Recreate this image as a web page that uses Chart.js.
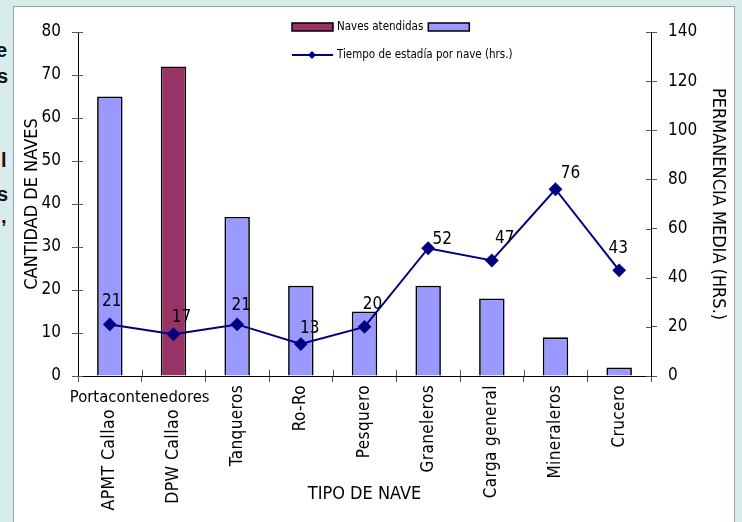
<!DOCTYPE html>
<html>
<head>
<meta charset="utf-8">
<title>Naves atendidas</title>
<script src="https://cdn.jsdelivr.net/npm/chart.js@4/dist/chart.umd.min.js"></script>
<style>
html, body { margin: 0; padding: 0; }
body { width: 742px; height: 522px; overflow: hidden; position: relative; background: #d8ecec; }
#side { position: absolute; left: 0; top: 0; width: 9px; height: 260px; overflow: hidden; }
#side span { position: absolute; font: bold 20px 'Liberation Sans', Arial, sans-serif; color: #111; line-height: 1; }
#panel { position: absolute; left: 13px; top: 6px; width: 720px; height: 540px; background: #fff; border: 1px solid #97a3a3; }
#wrap { position: absolute; left: 0; top: 0; width: 742px; height: 522px; }
</style>
</head>
<body>
<div id="side">
    <span style="top:40px;left:-4px">e</span>
    <span style="top:66px;left:-3px">s</span>
    <span style="top:150px;left:1px">l</span>
    <span style="top:184px;left:-3px">s</span>
    <span style="top:206px;left:1px">,</span>
</div>
<div id="panel"></div>
<div id="wrap"><canvas id="chart"></canvas></div>
<script>
// data
var categories = ['APMT Callao', 'DPW Callao', 'Tanqueros', 'Ro-Ro', 'Pesquero', 'Graneleros', 'Carga general', 'Mineraleros', 'Crucero'];
var groupLabel = 'Portacontenedores';
var groupSize = 2;
var navesAtendidas = [65, 72, 37, 21, 15, 21, 18, 9, 2];
var tiempoEstadia = [21, 17, 21, 13, 20, 52, 47, 76, 43];
var leftAxis = { min: 0, max: 80, step: 10 };
var rightAxis = { min: 0, max: 140, step: 20 };
var highlighted = 1;

(function(){
    'use strict';

    var FONT = '"DejaVu Sans Condensed", "DejaVu Sans", sans-serif';
    var BLUE = '#9999ff';
    var WINE = '#993366';
    var NAVY = '#000080';
    // where excel left each data label, relative to its point
    var labelShift = [[2, -23], [8, -17], [4, -19], [9, -15], [8, -22], [14, -9], [13, -22], [15, -16], [-1, -22]];

    var barColors = navesAtendidas.map(function(v, i){ return i === highlighted ? WINE : BLUE; });

    var crossTicks = {
        id: 'crossTicks',
        afterDraw: function(chart){
            var ctx = chart.ctx, a = chart.chartArea;
            var y = chart.scales.y, y1 = chart.scales.y1, x = chart.scales.x;
            ctx.save();
            ctx.strokeStyle = '#555';
            ctx.lineWidth = 1;
            ctx.beginPath();
            y.ticks.forEach(function(t, i){
                var p = Math.round(y.getPixelForTick(i)) + 0.5;
                ctx.moveTo(a.left, p); ctx.lineTo(a.left + 5, p);
            });
            y1.ticks.forEach(function(t, i){
                var p = Math.round(y1.getPixelForTick(i)) + 0.5;
                ctx.moveTo(a.right - 5, p); ctx.lineTo(a.right, p);
            });
            var half = x.getPixelForValue(0) - a.left;
            for (var i = 1; i < categories.length; i++) {
                var px = Math.round(x.getPixelForValue(i) - half) + 0.5;
                ctx.moveTo(px, a.bottom - 6); ctx.lineTo(px, a.bottom);
            }
            ctx.stroke();
            ctx.restore();
        }
    };

    var categoryLabels = {
        id: 'categoryLabels',
        afterDraw: function(chart){
            var ctx = chart.ctx, x = chart.scales.x, bottom = chart.chartArea.bottom;
            ctx.save();
            ctx.fillStyle = '#000';
            ctx.textBaseline = 'middle';
            categories.forEach(function(label, i){
                var px = x.getPixelForValue(i);
                var grouped = i < groupSize;
                var top = bottom + (grouped ? 33 : 9);
                ctx.save();
                ctx.font = (grouped ? '17.5px ' : '17px ') + FONT;
                ctx.letterSpacing = '0.4px';
                ctx.translate(px, top);
                ctx.rotate(-Math.PI / 2);
                ctx.textAlign = 'right';
                ctx.fillText(label, 0, 0);
                ctx.restore();
            });
            var gx = (x.getPixelForValue(0) + x.getPixelForValue(groupSize - 1)) / 2;
            ctx.font = '16.5px ' + FONT;
            ctx.textAlign = 'center';
            ctx.fillText(groupLabel, gx - 2, bottom + 22);
            ctx.restore();
        }
    };

    var pointLabels = {
        id: 'pointLabels',
        afterDraw: function(chart){
            var ctx = chart.ctx, meta = chart.getDatasetMeta(1);
            ctx.save();
            ctx.fillStyle = '#000';
            ctx.font = '17px ' + FONT;
            ctx.textAlign = 'center';
            ctx.textBaseline = 'middle';
            meta.data.forEach(function(pt, i){
                var s = labelShift[i];
                ctx.fillText(String(tiempoEstadia[i]), pt.x + s[0], pt.y + s[1]);
            });
            ctx.restore();
        }
    };

    var legendBox = {
        id: 'legendBox',
        afterDraw: function(chart){
            var ctx = chart.ctx;
            var lx = 292, ly = 27, sw = 41;
            ctx.save();
            ctx.lineWidth = 1.5;
            ctx.strokeStyle = '#000';
            ctx.fillStyle = WINE;
            ctx.fillRect(lx, ly - 4, sw, 8);
            ctx.strokeRect(lx, ly - 4, sw, 8);
            ctx.font = '11.5px ' + FONT;
            ctx.textBaseline = 'middle';
            ctx.fillStyle = '#000';
            ctx.fillText(chart.data.datasets[0].label, lx + 45, ly);
            var tw = ctx.measureText(chart.data.datasets[0].label).width;
            ctx.fillStyle = BLUE;
            ctx.fillRect(lx + 50 + tw, ly - 4, sw, 8);
            ctx.strokeRect(lx + 50 + tw, ly - 4, sw, 8);

            var l2 = ly + 28;
            ctx.strokeStyle = NAVY;
            ctx.lineWidth = 2;
            ctx.beginPath();
            ctx.moveTo(lx, l2); ctx.lineTo(lx + sw, l2);
            ctx.stroke();
            ctx.fillStyle = NAVY;
            ctx.beginPath();
            ctx.moveTo(lx + 20, l2 - 4); ctx.lineTo(lx + 24, l2); ctx.lineTo(lx + 20, l2 + 4); ctx.lineTo(lx + 16, l2);
            ctx.closePath();
            ctx.fill();
            ctx.fillStyle = '#000';
            ctx.fillText(chart.data.datasets[1].label, lx + 45, l2);
            ctx.restore();
        }
    };

    function axisStyle(range, position, width, titleText, titlePad){
        return {
            type: 'linear',
            position: position,
            min: range.min,
            max: range.max,
            afterFit: function(s){ s.width = width; },
            ticks: { stepSize: range.step, color: '#000', padding: 11, font: { family: FONT, size: 17 } },
            grid: { drawOnChartArea: false, tickLength: 6, color: '#555' },
            border: { color: '#000', width: 1 },
            title: { display: true, text: titleText, color: '#000', padding: { top: titlePad, bottom: 0 }, font: { family: FONT, size: 18 } }
        };
    }

    new Chart(document.getElementById('chart'), {
        type: 'bar',
        data: {
            labels: categories,
            datasets: [{
                type: 'bar',
                label: 'Naves atendidas',
                data: navesAtendidas,
                yAxisID: 'y',
                backgroundColor: barColors,
                borderColor: '#000',
                borderWidth: 1.7,
                barPercentage: 0.4,
                categoryPercentage: 1,
                order: 1
            }, {
                type: 'line',
                label: 'Tiempo de estadía por nave (hrs.)',
                data: tiempoEstadia,
                yAxisID: 'y1',
                borderColor: NAVY,
                borderWidth: 2,
                backgroundColor: NAVY,
                pointStyle: 'rectRot',
                pointRadius: 5.5,
                pointBackgroundColor: NAVY,
                pointBorderColor: NAVY,
                tension: 0,
                order: 0
            }]
        },
        options: {
            responsive: true,
            maintainAspectRatio: false,
            animation: false,
            layout: { padding: { top: 32, left: 0, right: 0, bottom: 0 } },
            plugins: { legend: { display: false }, tooltip: { enabled: false } },
            scales: {
                x: {
                    afterFit: function(s){ s.height = 146; },
                    ticks: { display: false },
                    grid: { drawOnChartArea: false, tickLength: 6, color: '#555' },
                    border: { color: '#000', width: 1 },
                    title: { display: true, text: 'TIPO DE NAVE', color: '#000', padding: { top: 0, bottom: 17 }, font: { family: FONT, size: 18 } }
                },
                y: axisStyle(leftAxis, 'left', 78, 'CANTIDAD DE NAVES', 22),
                y1: axisStyle(rightAxis, 'right', 91, 'PERMANENCIA MEDIA (HRS.)', 14)
            }
        },
        plugins: [crossTicks, categoryLabels, pointLabels, legendBox]
    });

}());
</script>
</body>
</html>
